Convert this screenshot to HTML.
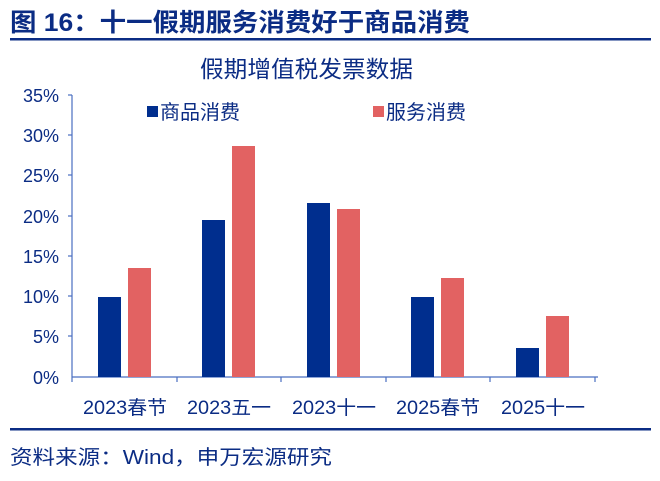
<!DOCTYPE html>
<html><head><meta charset="utf-8"><style>
body{margin:0;background:#fff;}
svg text{font-family:"Liberation Sans","Noto Sans CJK SC",sans-serif;}
</style></head><body>
<svg width="660" height="476" viewBox="0 0 660 476" xmlns="http://www.w3.org/2000/svg">
<text x="10" y="31" font-size="25" font-weight="bold" fill="#0B2C84" textLength="460" lengthAdjust="spacingAndGlyphs">图 16：十一假期服务消费好于商品消费</text>
<rect x="10" y="38" width="641" height="2.5" fill="#0B2C84"/>
<text x="200" y="77" font-size="23" fill="#0B2C84" textLength="213" lengthAdjust="spacingAndGlyphs">假期增值税发票数据</text>
<g font-size="18" fill="#0B2C84" text-anchor="end">
<text x="59" y="102">35%</text><text x="59" y="142">30%</text><text x="59" y="182">25%</text><text x="59" y="223">20%</text>
<text x="59" y="263">15%</text><text x="59" y="303">10%</text><text x="59" y="343">5%</text><text x="59" y="384">0%</text>
</g>
<g stroke="#4A6FC0" stroke-width="1.2">
<line x1="72" y1="95" x2="72" y2="377"/>
<line x1="72" y1="377" x2="598" y2="377"/>
<line x1="68" y1="95" x2="72" y2="95"/><line x1="68" y1="135" x2="72" y2="135"/><line x1="68" y1="175" x2="72" y2="175"/><line x1="68" y1="216" x2="72" y2="216"/><line x1="68" y1="256" x2="72" y2="256"/><line x1="68" y1="296" x2="72" y2="296"/><line x1="68" y1="336" x2="72" y2="336"/>
<line x1="72" y1="377" x2="72" y2="382"/><line x1="177" y1="377" x2="177" y2="382"/><line x1="281" y1="377" x2="281" y2="382"/><line x1="386" y1="377" x2="386" y2="382"/><line x1="490" y1="377" x2="490" y2="382"/><line x1="595" y1="377" x2="595" y2="382"/>
</g>
<g fill="#002E8E">
<rect x="98" y="297" width="23" height="80"/>
<rect x="202" y="220" width="23" height="157"/>
<rect x="307" y="203" width="23" height="174"/>
<rect x="411" y="297" width="23" height="80"/>
<rect x="516" y="348" width="23" height="29"/>
</g>
<g fill="#E26262">
<rect x="128" y="268" width="23" height="109"/>
<rect x="232" y="146" width="23" height="231"/>
<rect x="337" y="209" width="23" height="168"/>
<rect x="441" y="278" width="23" height="99"/>
<rect x="546" y="316" width="23" height="61"/>
</g>
<rect x="147" y="106" width="11" height="11" fill="#002E8E"/>
<text x="160" y="119" font-size="20" fill="#0B2C84">商品消费</text>
<rect x="373" y="106" width="11" height="11" fill="#E26262"/>
<text x="386" y="119" font-size="20" fill="#0B2C84">服务消费</text>
<g font-size="19" fill="#0B2C84">
<text x="83" y="414" textLength="84" lengthAdjust="spacingAndGlyphs">2023春节</text>
<text x="187" y="414" textLength="84" lengthAdjust="spacingAndGlyphs">2023五一</text>
<text x="292" y="414" textLength="84" lengthAdjust="spacingAndGlyphs">2023十一</text>
<text x="396" y="414" textLength="84" lengthAdjust="spacingAndGlyphs">2025春节</text>
<text x="501" y="414" textLength="84" lengthAdjust="spacingAndGlyphs">2025十一</text>
</g>
<rect x="10" y="428" width="641" height="2.5" fill="#0B2C84"/>
<text x="10" y="464" font-size="20" fill="#0B2C84" textLength="322" lengthAdjust="spacingAndGlyphs">资料来源：Wind，申万宏源研究</text>
</svg>
</body></html>
